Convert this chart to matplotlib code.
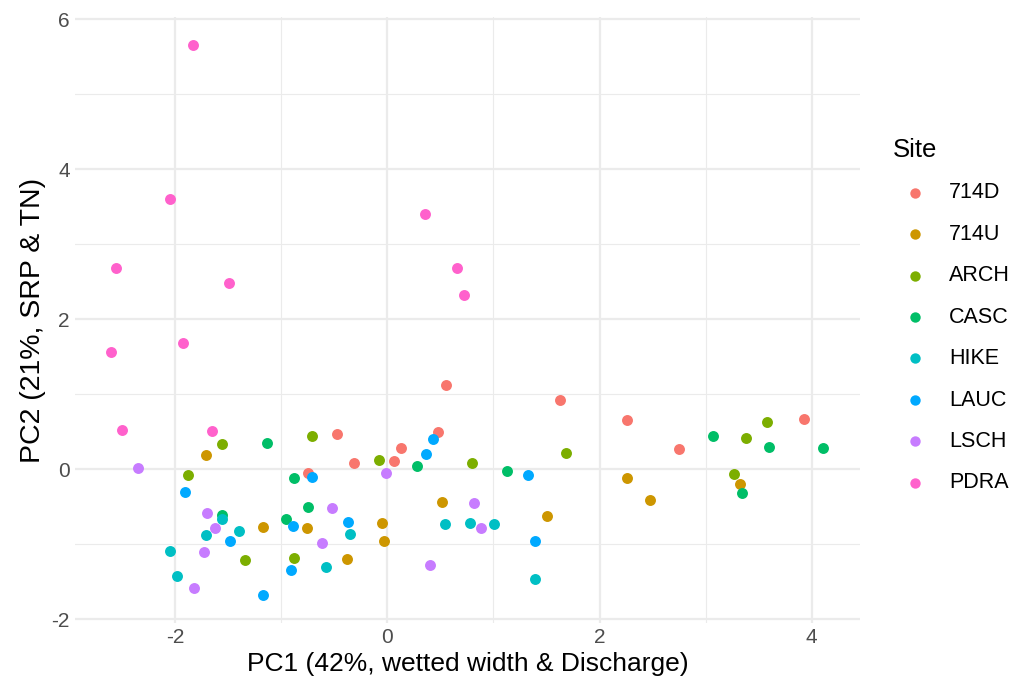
import matplotlib
matplotlib.use("Agg")
import matplotlib.pyplot as plt
from matplotlib.ticker import MultipleLocator

plt.rcParams['font.family'] = ['Liberation Sans', 'DejaVu Sans']
plt.rcParams['axes.unicode_minus'] = False

sites = ["714D", "714U", "ARCH", "CASC", "HIKE", "LAUC", "LSCH", "PDRA"]
colors = ["#F8766D", "#CD9600", "#7CAE00", "#00BE67",
          "#00BFC4", "#00A9FF", "#C77CFF", "#FF61CC"]

# PC scores
pc1_714D = [-0.47, -0.31, -0.75, 0.06, 0.13, 0.48, 0.55, 1.63, 2.26, 2.75, 3.93]
pc2_714D = [0.47, 0.08, -0.05, 0.11, 0.28, 0.50, 1.12, 0.92, 0.66, 0.27, 0.67]

pc1_714U = [-1.71, -1.17, -0.76, -0.38, -0.05, -0.03, 0.52, 1.51, 2.26, 2.48, 3.32]
pc2_714U = [0.19, -0.77, -0.79, -1.20, -0.72, -0.96, -0.44, -0.63, -0.12, -0.41, -0.20]

pc1_ARCH = [-1.56, -1.88, -1.34, -0.71, -0.88, -0.08, 0.80, 1.68, 3.27, 3.38, 3.58]
pc2_ARCH = [0.33, -0.08, -1.21, 0.44, -1.18, 0.12, 0.08, 0.21, -0.07, 0.42, 0.63]

pc1_CASC = [-1.13, -1.56, -0.88, -0.75, -0.95, 0.28, 1.13, 3.07, 3.60, 3.34, 4.11]
pc2_CASC = [0.35, -0.61, -0.12, -0.50, -0.67, 0.04, -0.03, 0.44, 0.29, -0.32, 0.28]

pc1_HIKE = [-1.56, -1.71, -1.40, -2.05, -1.98, -0.58, -0.35, 0.54, 0.78, 1.01, 1.39]
pc2_HIKE = [-0.66, -0.88, -0.82, -1.09, -1.43, -1.31, -0.86, -0.73, -0.72, -0.73, -1.46]

pc1_LAUC = [-1.91, -1.48, -0.89, -0.71, -0.91, -1.17, -0.37, 0.43, 0.37, 1.33, 1.39]
pc2_LAUC = [-0.31, -0.96, -0.76, -0.10, -1.35, -1.68, -0.70, 0.40, 0.20, -0.08, -0.96]

pc1_LSCH = [-2.35, -1.70, -1.62, -1.73, -1.82, -0.52, -0.61, -0.01, 0.82, 0.88, 0.40]
pc2_LSCH = [0.02, -0.59, -0.78, -1.10, -1.59, -0.52, -0.98, -0.05, -0.45, -0.79, -1.28]

pc1_PDRA = [-1.83, -2.05, -2.56, -1.49, -2.60, -1.92, -2.50, -1.65, 0.36, 0.66, 0.72]
pc2_PDRA = [5.66, 3.61, 2.68, 2.48, 1.56, 1.69, 0.52, 0.51, 3.40, 2.69, 2.32]

pc1 = [pc1_714D, pc1_714U, pc1_ARCH, pc1_CASC, pc1_HIKE, pc1_LAUC, pc1_LSCH, pc1_PDRA]
pc2 = [pc2_714D, pc2_714U, pc2_ARCH, pc2_CASC, pc2_HIKE, pc2_LAUC, pc2_LSCH, pc2_PDRA]

fig = plt.figure(figsize=(10.16, 6.86), dpi=100)
ax = fig.add_axes([0.074, 0.092, 0.772, 0.883])

for i in range(len(sites)):
    ax.scatter(pc1[i], pc2[i], s=62, color=colors[i], label=sites[i],
               linewidths=0, zorder=3)

ax.set_xlim(-2.94, 4.45)
ax.set_ylim(-2.05, 6.03)
ax.xaxis.set_major_locator(MultipleLocator(2))
ax.xaxis.set_minor_locator(MultipleLocator(1))
ax.yaxis.set_major_locator(MultipleLocator(2))
ax.yaxis.set_minor_locator(MultipleLocator(1))
ax.grid(which='major', color='#EBEBEB', linewidth=1.6)
ax.grid(which='minor', color='#EBEBEB', linewidth=0.8)
ax.set_axisbelow(True)
for s in ax.spines.values():
    s.set_visible(False)
ax.tick_params(which='both', length=0, labelsize=15, labelcolor='#4D4D4D', pad=4)

ax.set_xlabel("PC1 (42%, wetted width & Discharge)", fontsize=19, labelpad=3)
ax.set_ylabel("PC2 (21%, SRP & TN)", fontsize=20.5, labelpad=4)

leg = fig.legend(title="Site", loc='upper left', bbox_to_anchor=(0.879, 0.799),
                 frameon=False, fontsize=15.5, title_fontsize=18.5,
                 labelspacing=0.95, handletextpad=0.6, markerscale=0.95,
                 borderpad=0, borderaxespad=0)
leg._legend_box.align = "left"

fig.savefig("out.png", dpi=100)
